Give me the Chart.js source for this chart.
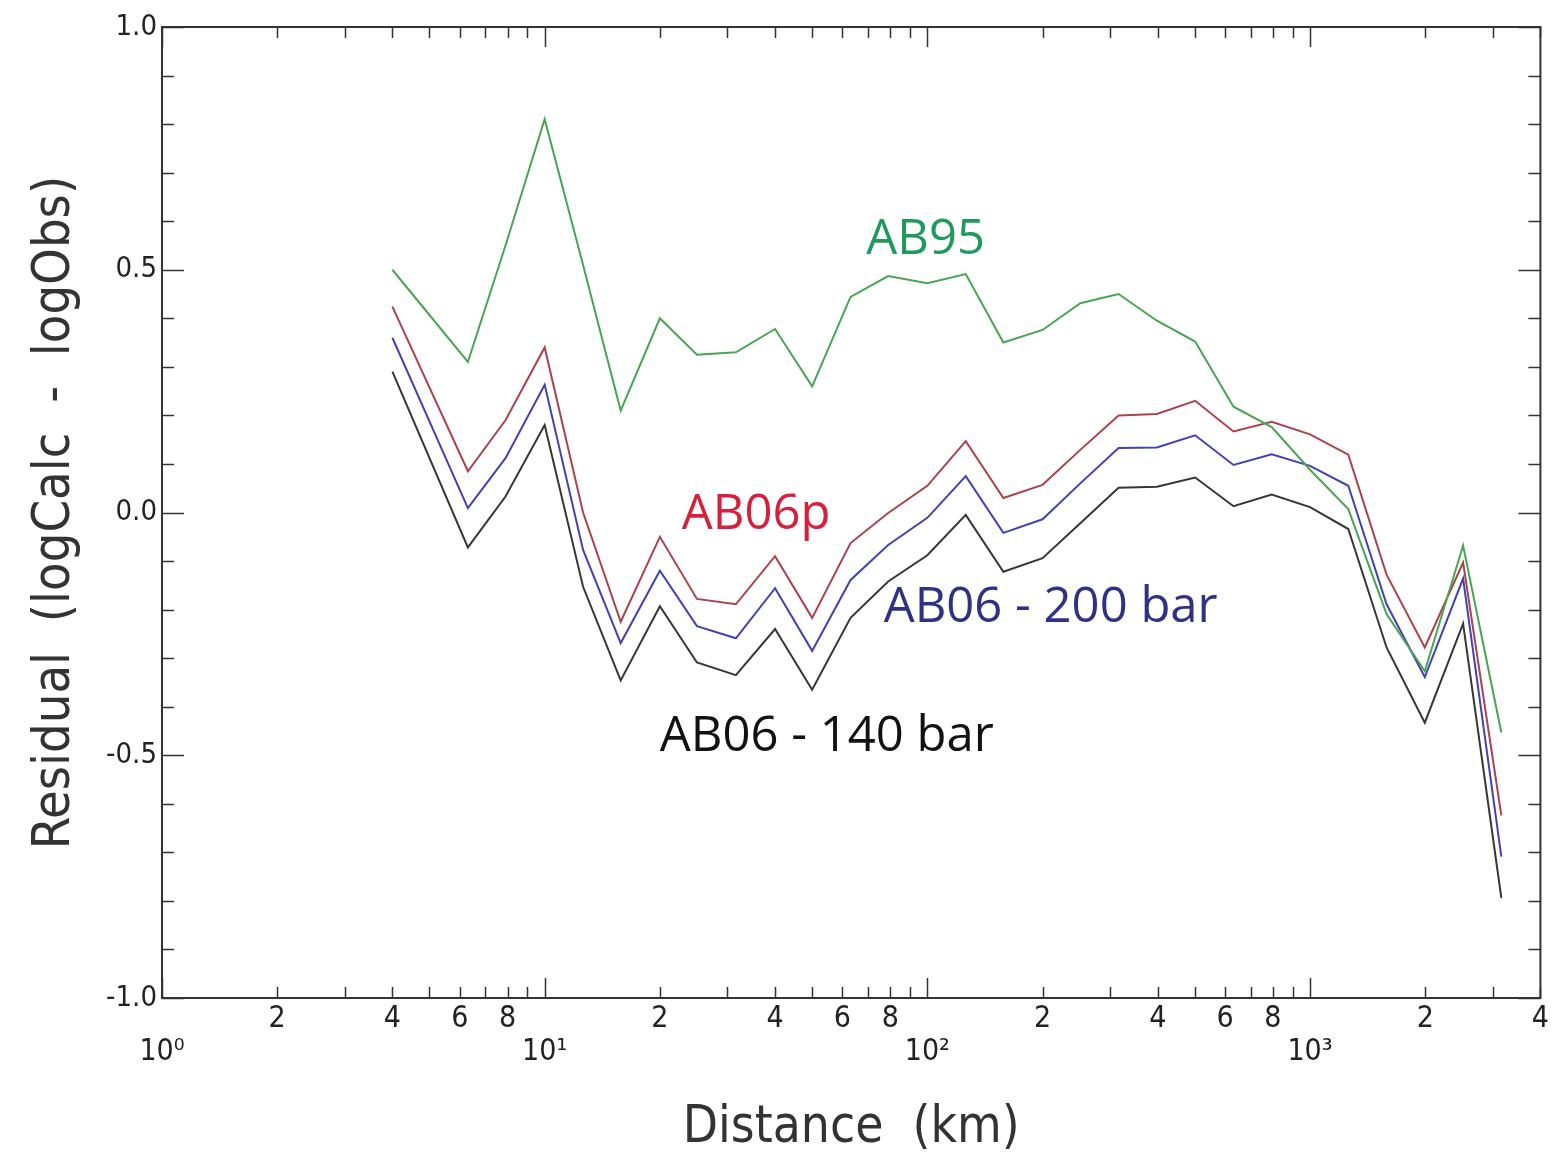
<!DOCTYPE html>
<html>
<head>
<meta charset="utf-8">
<script src="https://cdn.jsdelivr.net/npm/chart.js@4/dist/chart.umd.min.js"></script>
<style>
  body { margin: 0; background: #fff; }
</style>
</head>
<body>
<canvas id="residualChart" width="1554" height="1163"></canvas>
<script>
// distance in km (log axis)
const distances = [4, 6.3, 7.9, 10, 12.6, 15.8, 20, 25, 31.6, 40, 50, 63, 79, 100, 126, 158, 200, 251, 316, 398, 501, 631, 794, 1000, 1259, 1585, 1995, 2512, 3162];

const ab95 = [0.50, 0.31, 0.55, 0.81, 0.51, 0.21, 0.40, 0.325, 0.33, 0.378, 0.26, 0.444, 0.487, 0.472, 0.491, 0.35, 0.376, 0.431, 0.45, 0.395, 0.352, 0.218, 0.176, 0.088, 0.007, -0.209, -0.327, -0.068, -0.453];
const ab06p = [0.424, 0.085, 0.19, 0.34, 0.0, -0.225, -0.05, -0.178, -0.189, -0.09, -0.217, -0.063, -0.001, 0.055, 0.147, 0.03, 0.057, 0.129, 0.2, 0.203, 0.23, 0.167, 0.187, 0.161, 0.119, -0.128, -0.278, -0.103, -0.624];
const ab06_200 = [0.36, 0.009, 0.112, 0.263, -0.077, -0.269, -0.12, -0.234, -0.259, -0.156, -0.285, -0.139, -0.067, -0.011, 0.075, -0.042, -0.014, 0.06, 0.133, 0.134, 0.159, 0.098, 0.12, 0.096, 0.055, -0.189, -0.339, -0.136, -0.709];
const ab06_140 = [0.29, -0.072, 0.033, 0.18, -0.153, -0.346, -0.193, -0.309, -0.335, -0.24, -0.365, -0.217, -0.142, -0.088, -0.005, -0.122, -0.094, -0.022, 0.051, 0.053, 0.072, 0.013, 0.037, 0.011, -0.034, -0.278, -0.433, -0.229, -0.794];

// tick labels
const decadeLabels = ['10\u2070', '10\u00b9', '10\u00b2', '10\u00b3'];
const minorLabels = [2, 4, 6, 8];
const yTickLabels = ['-1.0', '-0.5', '0.0', '0.5', '1.0'];

const axisFont = "'DejaVu Sans Condensed', 'DejaVu Sans', sans-serif";
const labelFont = "'Open Sans', 'Noto Sans', sans-serif";

function toPoints(vals) {
    return vals.map((v, i) => ({ x: distances[i], y: v }));
}

// tick positions: 1..9 per decade up to 4000, and every 0.1 on y
const xTickValues = [];
[1, 10, 100, 1000].forEach(d => {
    for (let m = 1; m <= 9; m++) {
        if (d * m <= 4000) xTickValues.push(d * m);
    }
});
const yTickValues = [];
for (let i = -10; i <= 10; i++) yTickValues.push(i / 10);

// series name labels, placed in data coordinates
const seriesNotes = [
    { text: 'AB95', x: 99, y: 0.561, color: '#1f9a5c' },
    { text: 'AB06p', x: 35.7, y: -0.005, color: '#d6203c' },
    { text: 'AB06 - 200 bar', x: 210, y: -0.196, color: '#2e3185' },
    { text: 'AB06 - 140 bar', x: 54.6, y: -0.462, color: '#111111' }
];

const frameTicks = {
    id: 'frameTicks',
    afterDraw(chart) {
        const { ctx, chartArea: a, scales: { x, y } } = chart;
        ctx.save();
        ctx.strokeStyle = '#333';
        ctx.lineWidth = 2;
        ctx.strokeRect(a.left, a.top, a.right - a.left, a.bottom - a.top);

        ctx.lineWidth = 1.5;
        ctx.beginPath();
        xTickValues.forEach(v => {
            const px = Math.round(x.getPixelForValue(v)) + 0.5;
            const major = Math.abs(Math.log10(v) - Math.round(Math.log10(v))) < 1e-9;
            const len = major ? 20 : 11;
            ctx.moveTo(px, a.bottom); ctx.lineTo(px, a.bottom - len);
            ctx.moveTo(px, a.top); ctx.lineTo(px, a.top + len);
        });
        yTickValues.forEach(v => {
            const py = Math.round(y.getPixelForValue(v)) + 0.5;
            const major = Math.abs(v * 2 - Math.round(v * 2)) < 1e-9;
            const len = major ? 22 : 12;
            ctx.moveTo(a.left, py); ctx.lineTo(a.left + len, py);
            ctx.moveTo(a.right, py); ctx.lineTo(a.right - len, py);
        });
        ctx.stroke();

        ctx.font = '49px ' + labelFont;
        ctx.textAlign = 'center';
        ctx.textBaseline = 'middle';
        seriesNotes.forEach(n => {
            ctx.fillStyle = n.color;
            ctx.fillText(n.text, x.getPixelForValue(n.x), y.getPixelForValue(n.y));
        });
        ctx.restore();
    }
};

const ctx = document.getElementById('residualChart');

var chartData = {
    datasets: [
        { label: 'AB95', data: toPoints(ab95), borderColor: 'rgb(72,165,82)' },
        { label: 'AB06p', data: toPoints(ab06p), borderColor: 'rgb(172,66,78)' },
        { label: 'AB06 - 200 bar', data: toPoints(ab06_200), borderColor: 'rgb(66,66,180)' },
        { label: 'AB06 - 140 bar', data: toPoints(ab06_140), borderColor: 'rgb(55,55,55)' }
    ].map(ds => Object.assign(ds, { borderWidth: 2, pointRadius: 0, tension: 0, fill: false }))
};

var chartOptions = {
    responsive: false,
    animation: false,
    layout: { padding: { top: 27, right: 8, left: 0, bottom: 0 } },
    plugins: {
        legend: { display: false },
        tooltip: { enabled: false }
    },
    scales: {
        x: {
            type: 'logarithmic',
            min: 1,
            max: 4000,
            afterBuildTicks: s => { s.ticks = xTickValues.map(v => ({ value: v })); },
            afterFit: s => { s.height = 165; },
            grid: { display: false, drawTicks: false },
            border: { display: false },
            ticks: {
                autoSkip: false,
                maxRotation: 0,
                padding: 5,
                color: '#222',
                font: { family: axisFont, size: 30, lineHeight: 1.1 },
                callback: function (value) {
                    const d = Math.floor(Math.log10(value) + 1e-9);
                    const m = Math.round(value / Math.pow(10, d));
                    if (m === 1) return ['', decadeLabels[d]];
                    if (minorLabels.includes(m)) return [String(m), ''];
                    return '';
                }
            },
            title: {
                display: true,
                text: 'Distance  (km)',
                color: '#333',
                font: { family: axisFont, size: 51 },
                padding: { top: 0, bottom: 4 }
            }
        },
        y: {
            min: -1,
            max: 1,
            afterBuildTicks: s => { s.ticks = yTickValues.map(v => ({ value: v })); },
            afterFit: s => { s.width = 162; },
            grid: { display: false, drawTicks: false },
            border: { display: false },
            ticks: {
                autoSkip: false,
                padding: 5,
                color: '#222',
                font: { family: axisFont, size: 29 },
                callback: function (value) {
                    const k = Math.round(value * 2);
                    if (Math.abs(value * 2 - k) > 1e-6) return '';
                    return yTickLabels[k + 2];
                }
            },
            title: {
                display: true,
                text: 'Residual  (logCalc  -  logObs)',
                color: '#333',
                font: { family: axisFont, size: 52 },
                padding: { top: 24, bottom: 0 }
            }
        }
    }
};

var residualChart = new Chart(ctx, {
    type: 'line',
    data: chartData,
    options: chartOptions,
    plugins: [frameTicks]
});
</script>
</body>
</html>
